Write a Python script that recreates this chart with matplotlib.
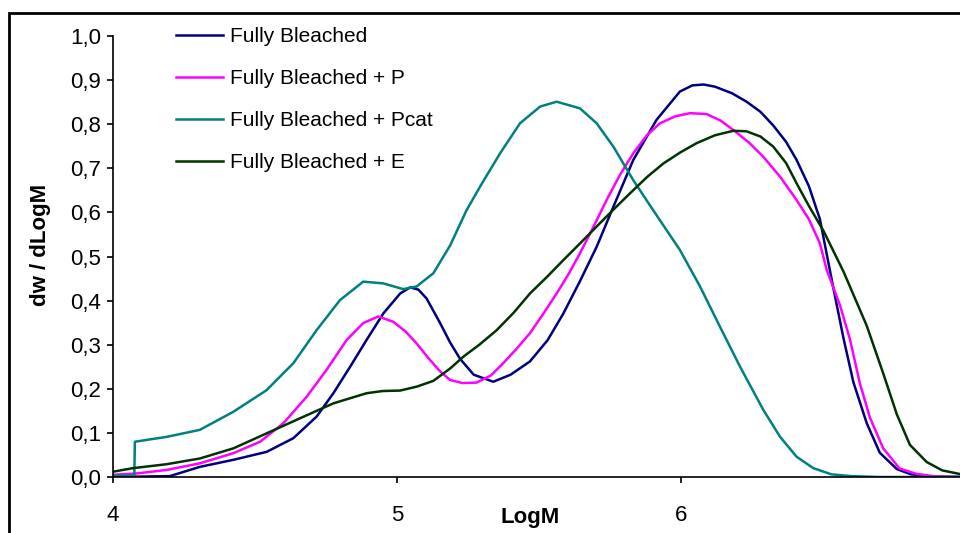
import matplotlib
matplotlib.use("Agg")
import matplotlib.pyplot as plt
from matplotlib.patches import Rectangle

plt.rcParams["font.family"] = ["Liberation Sans", "DejaVu Sans"]

# ---------------------------------------------------------------------------
# Molar mass distributions (LogM vs dw/dLogM)
# ---------------------------------------------------------------------------
fb_logm = [4.0, 4.2, 4.306, 4.424, 4.541, 4.635, 4.717, 4.776, 4.835, 4.893,
           4.952, 5.011, 5.046, 5.075, 5.104, 5.151, 5.187, 5.222, 5.27, 5.339,
           5.40, 5.468, 5.53, 5.586, 5.645, 5.703, 5.762, 5.832, 5.914, 5.996,
           6.04, 6.08, 6.12, 6.18, 6.231, 6.28, 6.325, 6.37, 6.407, 6.45,
           6.489, 6.536, 6.572, 6.607, 6.654, 6.70, 6.76, 6.81, 6.87, 7.0]
fb_dw = [0.000, 0.002, 0.023, 0.039, 0.057, 0.088, 0.137, 0.190, 0.250, 0.311,
         0.371, 0.416, 0.430, 0.425, 0.405, 0.350, 0.305, 0.268, 0.232, 0.216,
         0.232, 0.262, 0.310, 0.371, 0.445, 0.522, 0.613, 0.719, 0.810, 0.874,
         0.888, 0.890, 0.885, 0.870, 0.851, 0.828, 0.797, 0.760, 0.719, 0.660,
         0.585, 0.430, 0.315, 0.215, 0.122, 0.055, 0.018, 0.006, 0.001, 0.0]

fbp_logm = [4.0, 4.083, 4.189, 4.306, 4.424, 4.518, 4.60, 4.682, 4.752, 4.823,
            4.881, 4.934, 4.987, 5.030, 5.069, 5.11, 5.151, 5.187, 5.23, 5.28,
            5.33, 5.374, 5.42, 5.468, 5.515, 5.562, 5.604, 5.644, 5.69, 5.738,
            5.785, 5.832, 5.88, 5.926, 5.98, 6.032, 6.09, 6.14, 6.184, 6.24,
            6.29, 6.35, 6.407, 6.45, 6.489, 6.513, 6.56, 6.595, 6.63, 6.665,
            6.712, 6.77, 6.83, 6.9, 7.0]
fbp_dw = [0.005, 0.008, 0.016, 0.031, 0.054, 0.080, 0.122, 0.182, 0.243, 0.311,
          0.349, 0.364, 0.352, 0.330, 0.303, 0.270, 0.240, 0.220, 0.213, 0.214,
          0.230, 0.258, 0.290, 0.326, 0.370, 0.416, 0.460, 0.507, 0.565, 0.628,
          0.685, 0.734, 0.775, 0.802, 0.818, 0.825, 0.823, 0.808, 0.787, 0.758,
          0.726, 0.680, 0.628, 0.585, 0.530, 0.470, 0.389, 0.312, 0.212, 0.135,
          0.065, 0.019, 0.007, 0.001, 0.0]

fbpcat_logm = [4.0, 4.075, 4.077, 4.189, 4.306, 4.424, 4.541, 4.635, 4.717, 4.799,
               4.881, 4.952, 5.022, 5.069, 5.128, 5.187, 5.245, 5.292, 5.363, 5.433,
               5.504, 5.562, 5.644, 5.703, 5.762, 5.832, 5.902, 5.996, 6.067, 6.137,
               6.208, 6.29, 6.349, 6.407, 6.466, 6.53, 6.6, 6.7, 7.0]
fbpcat_dw = [0.003, 0.003, 0.080, 0.091, 0.107, 0.148, 0.197, 0.258, 0.333, 0.401,
             0.443, 0.439, 0.426, 0.432, 0.462, 0.525, 0.605, 0.658, 0.734, 0.802,
             0.840, 0.851, 0.836, 0.802, 0.749, 0.673, 0.605, 0.515, 0.432, 0.341,
             0.250, 0.152, 0.091, 0.046, 0.020, 0.006, 0.002, 0.0, 0.0]

fbe_logm = [4.0, 4.07, 4.189, 4.306, 4.424, 4.541, 4.658, 4.776, 4.893, 4.95,
            5.011, 5.07, 5.128, 5.187, 5.234, 5.29, 5.351, 5.41, 5.468, 5.53,
            5.586, 5.645, 5.703, 5.76, 5.82, 5.88, 5.938, 6.0, 6.055, 6.12,
            6.184, 6.23, 6.28, 6.325, 6.37, 6.407, 6.45, 6.501, 6.572, 6.654,
            6.712, 6.76, 6.806, 6.865, 6.92, 6.98]
fbe_dw = [0.012, 0.020, 0.029, 0.042, 0.065, 0.099, 0.133, 0.167, 0.190, 0.195,
          0.196, 0.205, 0.218, 0.246, 0.273, 0.300, 0.333, 0.372, 0.416, 0.455,
          0.492, 0.530, 0.568, 0.605, 0.643, 0.680, 0.711, 0.737, 0.757, 0.775,
          0.785, 0.784, 0.772, 0.749, 0.712, 0.666, 0.615, 0.559, 0.466, 0.343,
          0.235, 0.142, 0.073, 0.034, 0.015, 0.007]

series_labels = ["Fully Bleached", "Fully Bleached + P",
                 "Fully Bleached + Pcat", "Fully Bleached + E"]
series_colors = ["#000080", "#ff00ff", "#008080", "#003300"]

y_ticks = [i / 10 for i in range(11)]
x_ticks = [4, 5, 6, 7]

# ---------------------------------------------------------------------------
# Figure
# ---------------------------------------------------------------------------
W, H = 960, 533
fig = plt.figure(figsize=(W / 100, H / 100), dpi=100)
fig.patch.set_facecolor("white")

# axes: x=4 at px 113, x=7 at px 965 (cut off), y=0 at px 477, y=1 at px 36
ax = fig.add_axes([113 / W, (H - 477) / H, 852 / W, 441 / H])

data = [(fb_logm, fb_dw), (fbp_logm, fbp_dw),
        (fbpcat_logm, fbpcat_dw), (fbe_logm, fbe_dw)]
for (xs, ys), lab, col in zip(data, series_labels, series_colors):
    ax.plot(xs, ys, color=col, lw=1.8, label=lab, solid_joinstyle="round")

ax.set_xlim(4, 7)
ax.set_ylim(0, 1)
ax.set_xticks(x_ticks)
ax.set_xticklabels([str(t) for t in x_ticks])
ax.set_yticks(y_ticks)
ax.set_yticklabels([f"{t:.1f}".replace(".", ",") for t in y_ticks])

for side in ("top", "right"):
    ax.spines[side].set_visible(False)
for side in ("left", "bottom"):
    ax.spines[side].set_linewidth(1.2)
ax.tick_params(axis="both", direction="out", length=4.5, width=1.2,
               labelsize=16)
ax.tick_params(axis="y", pad=4)
ax.tick_params(axis="x", pad=15.5)

ax.set_ylabel("dw / dLogM", fontsize=16, fontweight="bold")
ax.yaxis.set_label_coords((40 - 113) / 852, (477 - 245) / 441)
ax.set_xlabel("LogM", fontsize=16, fontweight="bold")
ax.xaxis.set_label_coords((530 - 113) / 852, -(518 - 477) / 441)
ax.xaxis.label.set_va("center")
ax.yaxis.label.set_va("center")

leg = ax.legend(loc="upper left", bbox_to_anchor=((176 - 113) / 852, 1.02),
                frameon=False, fontsize=15, handlelength=2.26,
                handletextpad=0.34, labelspacing=1.1, borderpad=0,
                borderaxespad=0)

# chart frame (cropped on the right and bottom)
fig.patches.append(Rectangle((9 / W, -0.02), 1.0, (H - 13) / H + 0.02,
                             transform=fig.transFigure, fill=False,
                             edgecolor="black", lw=2.0))

fig.savefig("out.png", dpi=100)
